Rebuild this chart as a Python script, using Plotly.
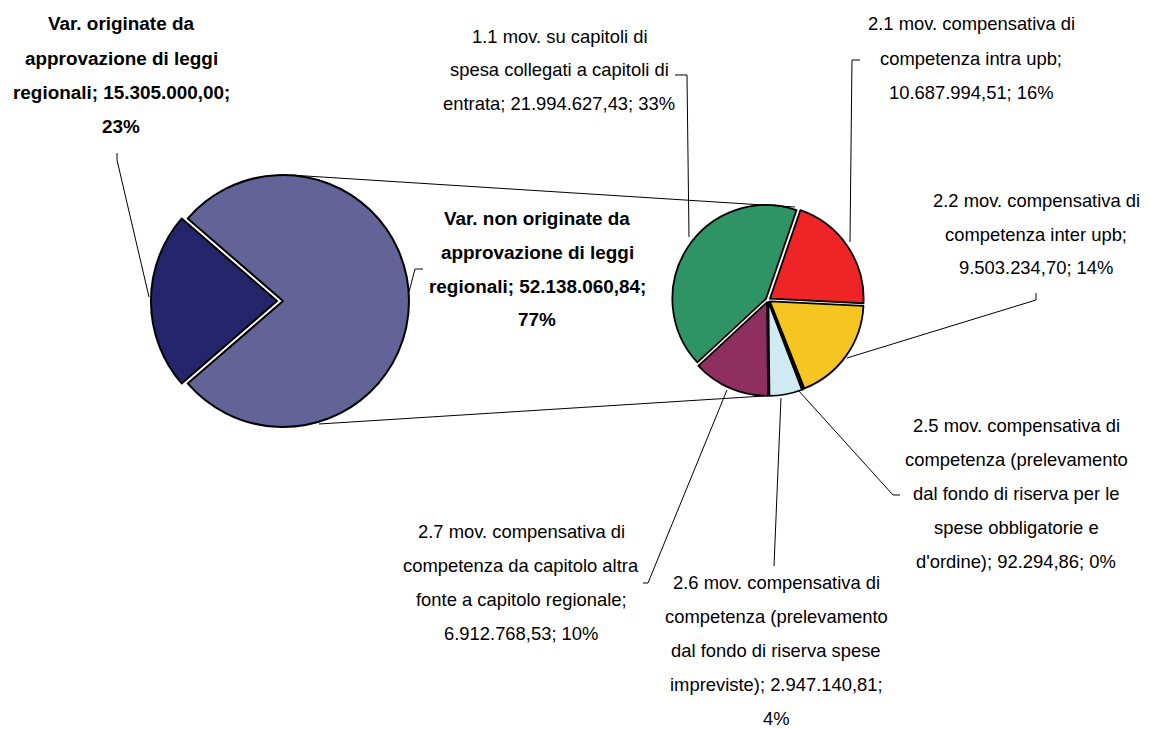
import plotly.graph_objects as go

W, H = 1149, 729

# ---------------- data ----------------
main_names = ["Var. originate da approvazione di leggi regionali",
              "Var. non originate da approvazione di leggi regionali"]
main_values = [15305000.00, 52138060.84]
main_colors = ["#25256B", "#636397"]

sub_names = ["1.1 mov. su capitoli di spesa collegati a capitoli di entrata",
             "2.1 mov. compensativa di competenza intra upb",
             "2.2 mov. compensativa di competenza inter upb",
             "2.5 mov. compensativa di competenza (prelevamento dal fondo di riserva per le spese obbligatorie e d'ordine)",
             "2.6 mov. compensativa di competenza (prelevamento dal fondo di riserva spese impreviste)",
             "2.7 mov. compensativa di competenza da capitolo altra fonte a capitolo regionale"]
sub_values = [21994627.43, 10687994.51, 9503234.70, 92294.86, 2947140.81, 6912768.53]
sub_colors = ["#2E9466", "#EE2427", "#F5C521", "#111111", "#CFEAF0", "#8F2F60"]

# label line templates ({v}=value, {p}=percent)
main_label_lines = [
    ["Var. originate da", "approvazione di leggi", "regionali; {v};", "{p}"],
    ["Var. non originate da", "approvazione di leggi", "regionali; {v};", "{p}"],
]
sub_label_lines = [
    ["1.1 mov. su capitoli di", "spesa collegati a capitoli di", "entrata; {v}; {p}"],
    ["2.1 mov. compensativa di", "competenza intra upb;", "{v}; {p}"],
    ["2.2 mov. compensativa di", "competenza inter upb;", "{v}; {p}"],
    ["2.5 mov. compensativa di", "competenza (prelevamento", "dal fondo di riserva per le",
     "spese obbligatorie e", "d'ordine); {v}; {p}"],
    ["2.6 mov. compensativa di", "competenza (prelevamento", "dal fondo di riserva spese",
     "impreviste); {v};", "{p}"],
    ["2.7 mov. compensativa di", "competenza da capitolo altra", "fonte a capitolo regionale;",
     "{v}; {p}"],
]

# ---------------- layout / style ----------------
TOTAL = sum(main_values)
SUBTOTAL = sum(sub_values)


def fmt_it(v):
    s = f"{v:,.2f}"
    return s.replace(",", "X").replace(".", ",").replace("X", ".")


def px(x):
    return x / W


def py(y):
    return 1 - y / H


# pie geometry in pixels
L_CX, L_CY, L_R, L_PULL = 283, 301, 126, 0.048
R_CX, R_CY, R_EXT, R_PULL = 768, 300, 96, 0.025

left_half = L_R * (1 + L_PULL)
right_half = R_EXT

main_rot = 270 - 360 * main_values[0] / TOTAL / 2      # first slice centred on 9 o'clock
sub_rot = 19 - 360 * sub_values[0] / SUBTOTAL          # red slice starts ~19 deg

fig = go.Figure()
fig.add_trace(go.Pie(
    labels=main_names, values=main_values, sort=False, direction="clockwise",
    rotation=((main_rot + 180) % 360) - 180,
    marker=dict(colors=main_colors, line=dict(color="#000000", width=2)),
    pull=[L_PULL, 0], textinfo="none", showlegend=False,
    hoverinfo="label+value+percent",
    domain=dict(x=[px(L_CX - left_half), px(L_CX + left_half)],
                y=[py(L_CY + left_half), py(L_CY - left_half)]),
))
fig.add_trace(go.Pie(
    labels=sub_names, values=sub_values, sort=False, direction="clockwise",
    rotation=((sub_rot + 180) % 360) - 180,
    marker=dict(colors=sub_colors, line=dict(color="#000000", width=1.8)),
    pull=[R_PULL] * len(sub_values), textinfo="none", showlegend=False,
    hoverinfo="label+value",
    domain=dict(x=[px(R_CX - right_half), px(R_CX + right_half)],
                y=[py(R_CY + right_half), py(R_CY - right_half)]),
))

FONT_FAMILY = "Liberation Sans, Arial, sans-serif"
LINE_GAP = 34.0

# label anchor positions (centre x, first-line y) in px
main_label_pos = [(121, 24), (537, 218)]
sub_label_pos = [(559, 36), (971, 24), (1036, 200), (1016, 425), (776, 582), (521, 531)]

annotations = []


def add_label(lines, cx, y0, bold, size):
    for i, ln in enumerate(lines):
        annotations.append(dict(
            x=px(cx), y=py(y0 + i * LINE_GAP), xref="paper", yref="paper",
            text=f"<b>{ln}</b>" if bold else ln, showarrow=False,
            xanchor="center", yanchor="middle",
            font=dict(family=FONT_FAMILY, size=size, color="#000000"),
        ))


for tmpl, val, (cx, y0) in zip(main_label_lines, main_values, main_label_pos):
    p = f"{round(100 * val / TOTAL)}%"
    add_label([t.format(v=fmt_it(val), p=p) for t in tmpl], cx, y0, True, 18.9)

for tmpl, val, (cx, y0) in zip(sub_label_lines, sub_values, sub_label_pos):
    p = f"{round(100 * val / TOTAL)}%"
    add_label([t.format(v=fmt_it(val), p=p) for t in tmpl], cx, y0, False, 18.4)

# connector lines and leader lines (pixel polylines)
polylines = [
    [(290, 175), (795, 207)],                 # connector top
    [(319, 424), (764, 396)],                 # connector bottom
    [(117, 153), (117, 160), (149, 297)],     # leader originate
    [(423, 269), (415, 269), (409, 292)],     # leader non originate
    [(675, 75), (687, 75), (689, 237)],       # 1.1
    [(860, 60), (852, 60), (850, 242)],       # 2.1
    [(1036, 293), (1036, 300), (847, 358)],   # 2.2
    [(900, 495), (893, 495), (798, 390)],     # 2.5
    [(774, 566), (781, 398)],                 # 2.6
    [(643, 583), (648, 583), (727, 390)],     # 2.7
]
shapes = []
for pts in polylines:
    path = "M " + " L ".join(f"{px(x):.5f},{py(y):.5f}" for x, y in pts)
    shapes.append(dict(type="path", path=path, xref="paper", yref="paper",
                       line=dict(color="#000000", width=1)))

fig.update_layout(
    width=W, height=H, margin=dict(l=0, r=0, t=0, b=0),
    paper_bgcolor="#FFFFFF", plot_bgcolor="#FFFFFF",
    annotations=annotations, shapes=shapes,
)

fig.write_html("out.html", config={"displayModeBar": False},
               post_script="document.body.style.margin='0px';"
                           "document.body.style.overflow='hidden';")
